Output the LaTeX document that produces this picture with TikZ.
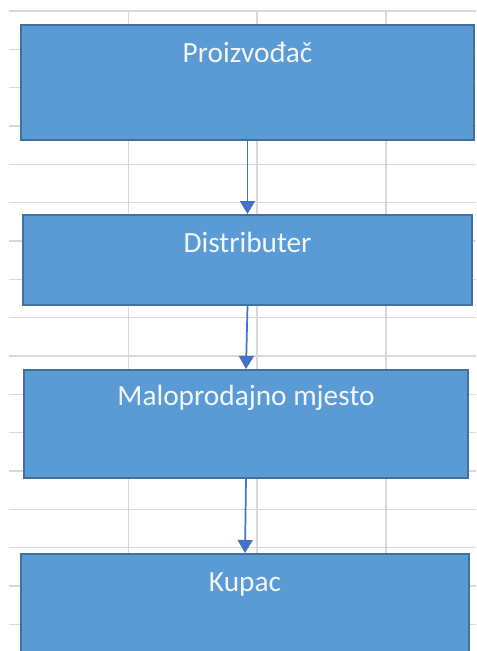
\documentclass[tikz,border=0pt]{standalone}
\usepackage{fontspec}
\setmainfont{Carlito}
\usepackage{tikz}
\usetikzlibrary{positioning,arrows.meta}
\definecolor{CellGray}{RGB}{217,217,217}
\definecolor{BoxBlue}{RGB}{91,155,213}
\definecolor{BoxEdge}{RGB}{65,113,156}
\definecolor{FlowBlue}{RGB}{68,114,196}
\definecolor{LabelWhite}{RGB}{242,245,250}
\tikzset{
  cell/.style={draw=CellGray,line width=1.1pt},
  stage/.style={rectangle,draw=BoxEdge,fill=BoxBlue,line width=1.5pt,anchor=north west,
    inner xsep=0pt,inner ysep=0pt,text=LabelWhite,font=\fontsize{22}{26}\selectfont},
  flow/.style={draw=FlowBlue,line width=1.3pt,-{Triangle[width=11.25pt,length=9.75pt]}},
}

\begin{document}
\begin{tikzpicture}[x=0.75pt,y=-0.75pt]
\useasboundingbox (0,0) rectangle (476,651);
\begin{scope}
\clip (0,0) rectangle (476,651);
% sheet grid
\foreach \k in {0,...,16}{\draw[cell](9,{11+38.33*\k})--(476,{11+38.33*\k});}
\foreach \x in {128.5,257,386}{\draw[cell](\x,11)--(\x,651);}
% stages
\node[stage,minimum width=339.75pt,text height=27.75pt,text depth=58.5pt](prod)at(20,24){Proizvođač};
\node[stage,minimum width=336.75pt,text height=27.75pt,text depth=39.75pt](dist)at(22,214){Distributer};
\node[stage,minimum width=333pt,text height=26.25pt,text depth=54.75pt](malo)at(23,369){Maloprodajno mjesto};
\node[stage,minimum width=336pt,text height=27.75pt,text depth=67.5pt](kupac)at(20,553){Kupac};
% flow
\draw[flow](prod.south)--(dist.north);
\draw[flow](dist.south)--(malo.north);
\draw[flow](malo.south)--(kupac.north);
\end{scope}
\end{tikzpicture}
\end{document}
